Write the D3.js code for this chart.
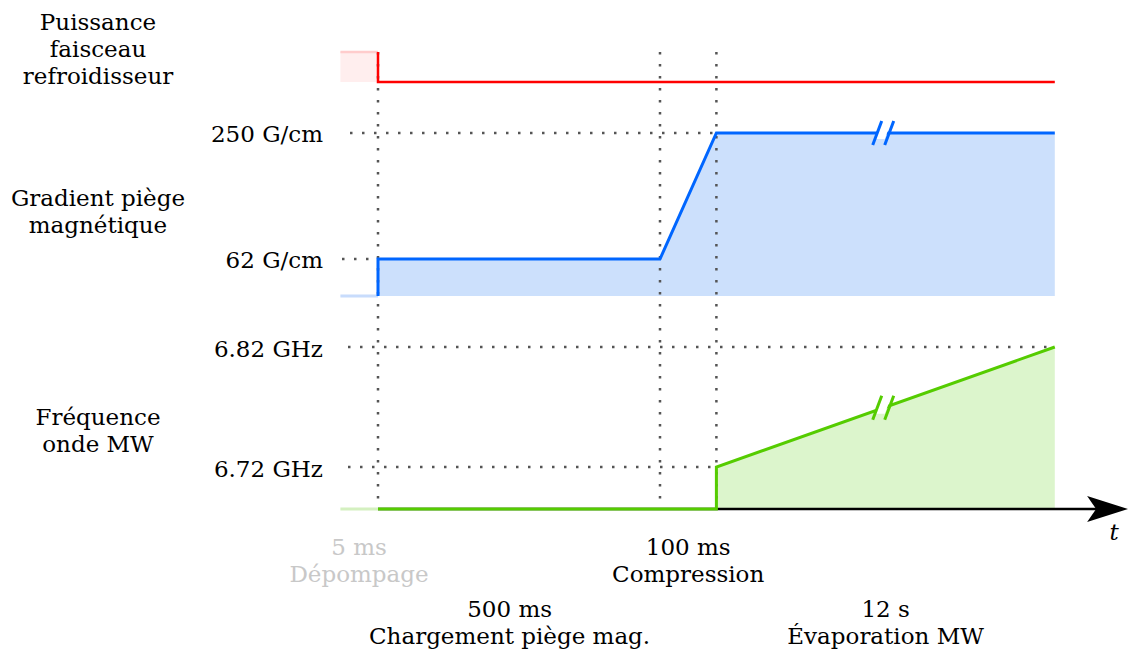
<!DOCTYPE html>
<html>
<head>
<meta charset="utf-8">
<script src="https://cdn.jsdelivr.net/npm/d3@7"></script>
<style>
  body { margin: 0; background: #fff; }
  svg text { font-family: "DejaVu Serif", "Liberation Serif", serif; font-size: 23px; fill: #000; }
</style>
</head>
<body>
<svg width="1128" height="654"></svg>
<script>
const width = 1128
const height = 654

// schematic time positions (broken axis): pre, start, ramp start, ramp end, end
const tPre = -1
const tStart = 0
const tRamp = 7.5
const tComp = 9
const tEnd = 18
const tArrow = 19.95
const tBreak = 13.45

// red channel: cooler beam power (1 = on, 0 = off)
const coolerT = [tStart, tStart, tEnd]
const coolerV = [1, 0, 0]

// blue channel: magnetic gradient (G/cm)
const gradT = [tStart, tStart, tRamp, tComp, tEnd]
const gradV = [0, 62, 62, 250, 250]
const gradTicks = [250, 62]
const gradTickLabels = ["250 G/cm", "62 G/cm"]

// green channel: MW frequency (GHz), baseline = off
const freqBase = 6.685
const freqT = [tStart, tComp, tComp, tEnd]
const freqV = [freqBase, freqBase, 6.72, 6.82]
const freqTicks = [6.82, 6.72]
const freqTickLabels = ["6.82 GHz", "6.72 GHz"]

const markers = [tStart, tRamp, tComp]

const channelNames = [
  ["Puissance", "faisceau", "refroidisseur"],
  ["Gradient piège", "magnétique"],
  ["Fréquence", "onde MW"]
]

const phaseDur = ["5 ms", "100 ms", "500 ms", "12 s"]
const phaseName = ["Dépompage", "Compression", "Chargement piège mag.", "Évaporation MW"]
const phaseMid = [-0.5, 8.25, 3.5, 13.5]
const phaseRow = [0, 0, 1, 1]
const phaseColor = ["#c8c8c8", "#000", "#000", "#000"]

const svg = d3.select("svg")

const x = d3.scaleLinear().domain([0, 1]).range([378, 415.6])
const yRed = d3.scaleLinear().domain([0, 1]).range([82, 52])
const yBlue = d3.scaleLinear().domain([0, 62, 250]).range([296, 259, 133])
const yGreen = d3.scaleLinear().domain([freqBase, 6.82]).range([509, 347])

const line = d3.line()
const zip = (ts, vs, y) => ts.map((t, i) => [x(t), y(vs[i])])

function dotted(x1, y1, x2, y2) {
  svg.append("line").attr("x1", x1).attr("y1", y1).attr("x2", x2).attr("y2", y2)
    .attr("stroke", "#555").attr("stroke-width", 2.5).attr("stroke-dasharray", "2.5 9.5")
}

// --- fills
svg.append("rect")
  .attr("x", x(tPre)).attr("y", yRed(1))
  .attr("width", x(tStart) - x(tPre)).attr("height", yRed(0) - yRed(1))
  .attr("fill", "#ffeeee")

svg.append("path")
  .attr("d", d3.area().x(d => d[0]).y0(yBlue(0)).y1(d => d[1])(zip(gradT, gradV, yBlue)))
  .attr("fill", "#cce0fc")

svg.append("path")
  .attr("d", d3.area().x(d => d[0]).y0(yGreen(freqBase)).y1(d => d[1])(zip(freqT.slice(2), freqV.slice(2), yGreen)))
  .attr("fill", "#dcf5cc")

// --- dotted guides
markers.forEach(t => dotted(x(t), 52, x(t), 509))
gradTicks.forEach((v, i) => dotted(i === 0 ? 350 : 342, yBlue(v), i === 0 ? x(tComp) : x(tStart), yBlue(v)))
freqTicks.forEach((v, i) => dotted(348, yGreen(v), i === 0 ? x(tEnd) : x(tComp), yGreen(v)))

// --- faint pre-phase levels
svg.append("line").attr("x1", x(tPre)).attr("x2", x(tStart)).attr("y1", yRed(1)).attr("y2", yRed(1))
  .attr("stroke", "#ffcccc").attr("stroke-width", 2.5)
svg.append("line").attr("x1", x(tPre)).attr("x2", x(tStart)).attr("y1", yBlue(0)).attr("y2", yBlue(0))
  .attr("stroke", "#c8dcfc").attr("stroke-width", 3)
svg.append("line").attr("x1", x(tPre)).attr("x2", x(tStart)).attr("y1", yGreen(freqBase)).attr("y2", yGreen(freqBase))
  .attr("stroke", "#d4f0c0").attr("stroke-width", 3)

// --- time axis
const tip = x(tArrow)
svg.append("line")
  .attr("x1", x(tStart)).attr("x2", tip - 20)
  .attr("y1", yGreen(freqBase)).attr("y2", yGreen(freqBase))
  .attr("stroke", "#000").attr("stroke-width", 2.5)

svg.append("path")
  .attr("d", "M0,0 L-41,-13 L-32,0 L-41,13 Z")
  .attr("transform", `translate(${tip},${yGreen(freqBase)})`)
  .attr("fill", "#000")

svg.append("text").attr("x", 1114).attr("y", 540).attr("text-anchor", "middle")
  .style("font-style", "italic").text("t")

// --- signal lines
svg.append("path").attr("d", line(zip(coolerT, coolerV, yRed)))
  .attr("fill", "none").attr("stroke", "#ff0000").attr("stroke-width", 2.5)
svg.append("path").attr("d", line(zip(gradT, gradV, yBlue)))
  .attr("fill", "none").attr("stroke", "#0066ff").attr("stroke-width", 3)
svg.append("path").attr("d", line(zip(freqT, freqV, yGreen)))
  .attr("fill", "none").attr("stroke", "#55cc00").attr("stroke-width", 3)

// --- break marks
function breakMark(t, y, color) {
  const g = svg.append("g").attr("transform", `translate(${x(t)},${y})`)
  g.append("path").attr("d", "M-9,6 L-2,-12 L8,-12 L1,6 Z").attr("fill", "#fff")
  g.append("path").attr("d", "M-11,12 L-2,-12 M1,12 L10,-12")
    .attr("stroke", color).attr("stroke-width", 3).attr("fill", "none")
}
const interp = d3.scaleLinear().domain([tComp, tEnd]).range([6.72, 6.82])
breakMark(tBreak, yBlue(250), "#0066ff")
breakMark(tBreak, yGreen(interp(tBreak)), "#55cc00")

// --- channel names
const nameY = [[30, 57, 84], [206, 233], [425, 452]]
channelNames.forEach((lines, i) => {
  lines.forEach((s, j) => {
    svg.append("text").attr("x", 98).attr("y", nameY[i][j]).attr("text-anchor", "middle").text(s)
  })
})

// --- value labels
gradTickLabels.forEach((s, i) => {
  svg.append("text").attr("x", 323).attr("y", yBlue(gradTicks[i]) + 8.5).attr("text-anchor", "end").text(s)
})
freqTickLabels.forEach((s, i) => {
  svg.append("text").attr("x", 323).attr("y", yGreen(freqTicks[i]) + 9.5).attr("text-anchor", "end").text(s)
})

// --- phase labels
phaseDur.forEach((d, i) => {
  const cx = phaseMid[i] === -0.5 ? 359 : x(phaseMid[i])
  const y0 = phaseRow[i] === 0 ? 555 : 617
  svg.append("text").attr("x", cx).attr("y", y0).attr("text-anchor", "middle")
    .style("fill", phaseColor[i]).text(d)
  svg.append("text").attr("x", cx).attr("y", y0 + 27).attr("text-anchor", "middle")
    .style("fill", phaseColor[i]).text(phaseName[i])
})
</script>
</body>
</html>
